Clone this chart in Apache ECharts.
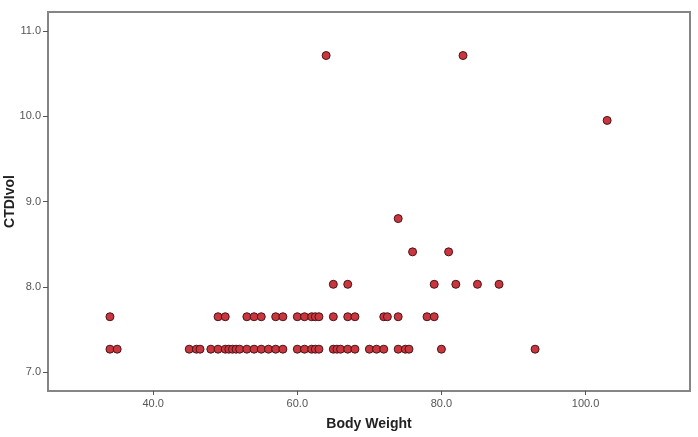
<!DOCTYPE html>
<html>
<head>
<meta charset="utf-8">
<script src="https://cdn.jsdelivr.net/npm/echarts@6/dist/echarts.min.js"></script>
<style>
  html, body { margin: 0; padding: 0; background: #fff; }
  #chart { width: 698px; height: 437px; }
</style>
</head>
<body>
<div id="chart"></div>
<script>
// body weight (x) and CTDIvol (y)
const weightLow = [34, 35, 45, 46, 46.5, 48, 49, 50, 50.5, 51, 51.5, 52, 53, 54, 55, 56, 57, 58,
  60, 61, 62, 62.5, 63, 65, 65.5, 66, 67, 68, 70, 71, 72, 74, 75, 75.5, 80, 93];
const weightMid = [34, 49, 50, 53, 54, 55, 57, 58, 60, 61, 62, 62.5, 63, 65, 67, 68, 72, 72.5, 74, 78, 79];
const weightHigh = [65, 67, 79, 82, 85, 88];
const weightOther = [76, 81, 74, 103, 64, 83];
const ctdiOther = [8.41, 8.41, 8.80, 9.95, 10.71, 10.71];

const xTicks = [40, 60, 80, 100];
const yTicks = [7, 8, 9, 10, 11];

const points = [];
weightLow.forEach(w => points.push([w, 7.27]));
weightMid.forEach(w => points.push([w, 7.65]));
weightHigh.forEach(w => points.push([w, 8.03]));
weightOther.forEach((w, i) => points.push([w, ctdiOther[i]]));

const chart = echarts.init(document.getElementById("chart"));
const font = "Arial, 'Liberation Sans', sans-serif";

chart.setOption({
  animation: false,
  grid: {
    left: 48,
    right: 8,
    top: 12,
    bottom: 46,
    outerBoundsMode: "none",
    containLabel: false,
    show: true,
    borderColor: "#858585",
    borderWidth: 2,
  },
  xAxis: {
    type: "value",
    min: 25.4,
    max: 114.5,
    name: "Body Weight",
    nameLocation: "middle",
    nameGap: 26,
    nameTextStyle: { fontFamily: font, fontSize: 14, fontWeight: "bold", color: "#222" },
    splitLine: { show: false },
    axisLine: { show: true, lineStyle: { color: "#858585", width: 2 } },
    axisTick: { show: true, customValues: xTicks, length: 4, lineStyle: { color: "#555" } },
    axisLabel: {
      customValues: xTicks,
      margin: 7,
      fontFamily: font,
      fontSize: 11,
      color: "#555",
      formatter: v => v.toFixed(1),
    },
  },
  yAxis: {
    type: "value",
    min: 6.78,
    max: 11.22,
    name: "CTDIvol",
    nameLocation: "middle",
    nameGap: 31,
    nameMoveOverlap: false,
    nameTextStyle: { fontFamily: font, fontSize: 14, fontWeight: "bold", color: "#222" },
    splitLine: { show: false },
    axisLine: { show: true, lineStyle: { color: "#858585", width: 2 } },
    axisTick: { show: true, customValues: yTicks, length: 5, lineStyle: { color: "#555" } },
    axisLabel: {
      customValues: yTicks,
      margin: 7,
      fontFamily: font,
      fontSize: 11,
      color: "#555",
      formatter: v => v.toFixed(1),
    },
  },
  series: [
    {
      type: "scatter",
      data: points,
      symbolSize: 8,
      itemStyle: {
        color: "#c9363e",
        borderColor: "#4a1418",
        borderWidth: 1,
        opacity: 1,
      },
    },
  ],
});
</script>
</body>
</html>
